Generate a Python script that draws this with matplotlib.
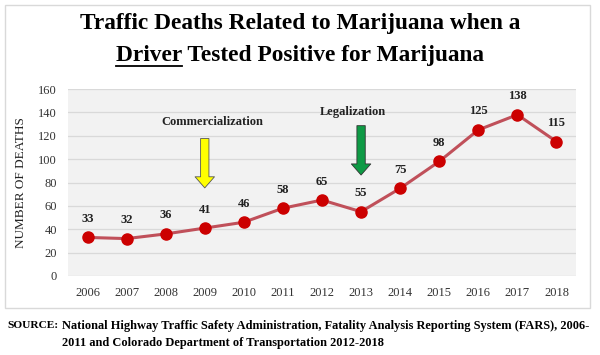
import matplotlib
matplotlib.use("Agg")
import matplotlib.pyplot as plt
from matplotlib.lines import Line2D
from matplotlib.patches import Rectangle

years = ["2006", "2007", "2008", "2009", "2010", "2011", "2012",
         "2013", "2014", "2015", "2016", "2017", "2018"]
deaths = [33, 32, 36, 41, 46, 58, 65, 55, 75, 98, 125, 138, 115]
y_ticks = [0, 20, 40, 60, 80, 100, 120, 140, 160]

SERIF = ["Liberation Serif", "DejaVu Serif"]
plt.rcParams["font.family"] = SERIF

fig = plt.figure(figsize=(6.0, 3.55), dpi=100)

# outer frame around title + chart
fig.patches.append(Rectangle((5 / 600, 1 - 308 / 355), 585 / 600, 303 / 355,
                             transform=fig.transFigure, fill=False,
                             ec="#d9d9d9", lw=1.0))

ax = fig.add_axes([68 / 600, 1 - 276 / 355, 508 / 600, 187 / 355])
ax.set_facecolor("#f2f2f2")
x = list(range(len(years)))
ax.plot(x, deaths, color="#c0505a", lw=2.2, zorder=3)
ax.plot(x, deaths, "o", color="#cc0000", ms=8, zorder=4)
for xi, v in zip(x, deaths):
    ax.annotate(str(v), (xi, v), xytext=(0, 9), textcoords="offset points",
                ha="center", va="bottom", fontsize=9, fontweight="bold",
                color="#222222")

ax.set_xlim(-0.5, len(years) - 0.5)
ax.set_ylim(0, 160)
ax.set_yticks(y_ticks)
ax.set_xticks(x)
ax.set_xticklabels(years)
ax.tick_params(length=0, labelsize=9, colors="#333333", pad=8)
ax.grid(axis="y", color="#d9d9d9", lw=0.9)
ax.set_axisbelow(True)
for s in ax.spines.values():
    s.set_visible(False)
ax.set_ylabel("NUMBER OF DEATHS", fontsize=9.5, color="#222222", labelpad=8)

# event arrows
ax.annotate("", xy=(3, 73), xytext=(3, 120),
            arrowprops=dict(arrowstyle="simple,head_width=1.4,head_length=0.8,tail_width=0.6",
                            fc="#ffff00", ec="#555555", lw=0.6))
ax.text(3.2, 132, "Commercialization", ha="center", va="center",
        fontsize=9, fontweight="bold", color="#222222")
ax.annotate("", xy=(7, 84), xytext=(7, 131),
            arrowprops=dict(arrowstyle="simple,head_width=1.4,head_length=0.8,tail_width=0.6",
                            fc="#0e9a45", ec="#333333", lw=0.6))
ax.text(6.8, 140, "Legalization", ha="center", va="center",
        fontsize=9, fontweight="bold", color="#222222")

# title, second line with underlined "Driver"
TITLE_FS = 16.8
fig.text(0.5, 1 - 24 / 355, "Traffic Deaths Related to Marijuana when a",
         ha="center", va="center", fontsize=TITLE_FS, fontweight="bold")
line2 = fig.text(0.5, 1 - 56 / 355, "Driver Tested Positive for Marijuana",
                 ha="center", va="center", fontsize=TITLE_FS, fontweight="bold")
fig.canvas.draw()
r = fig.canvas.get_renderer()
bb = line2.get_window_extent(r)
tmp = fig.text(bb.x0 / fig.bbox.width, 1 - 56 / 355, "Driver", ha="left",
               va="center", fontsize=TITLE_FS, fontweight="bold")
bd = tmp.get_window_extent(r)
tmp.remove()
uy = (bd.y0 + 1.0) / fig.bbox.height
fig.add_artist(Line2D([bd.x0 / fig.bbox.width, bd.x1 / fig.bbox.width], [uy, uy],
                      transform=fig.transFigure, color="black", lw=1.3))

# source note
SRC_FS = 8.9
fig.text(7 / 600, 1 - 326 / 355, "SOURCE:", ha="left", va="center",
         fontsize=8.2, fontweight="bold")
fig.text(62 / 600, 1 - 326 / 355,
         "National Highway Traffic Safety Administration, Fatality Analysis Reporting System (FARS), 2006-",
         ha="left", va="center", fontsize=SRC_FS, fontweight="bold")
fig.text(62 / 600, 1 - 343 / 355,
         "2011 and Colorado Department of Transportation 2012-2018",
         ha="left", va="center", fontsize=SRC_FS, fontweight="bold")

fig.savefig("out.png", dpi=100)
